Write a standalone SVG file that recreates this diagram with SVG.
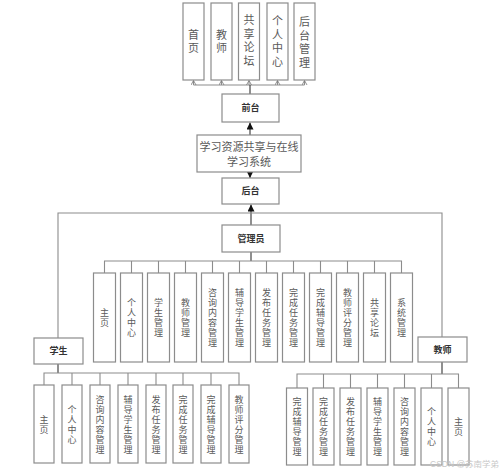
<svg xmlns="http://www.w3.org/2000/svg" width="499" height="472" viewBox="0 0 499 472">
<defs>
<marker id="af" markerWidth="7" markerHeight="7" refX="7" refY="3.5" orient="auto" markerUnits="userSpaceOnUse"><path d="M0,0 L7,3.5 L0,7 z" fill="#111"/></marker>
<marker id="ao" markerWidth="5" markerHeight="6" refX="4.5" refY="3" orient="auto" markerUnits="userSpaceOnUse"><path d="M0,0.5 L4.5,3 L0,5.5" fill="none" stroke="#777" stroke-width="0.8"/></marker>
<style>
.b{fill:#fff;stroke:#8c8c8c;stroke-width:1.2}
.l{fill:none;stroke:#8c8c8c;stroke-width:1.1}
.d{fill:none;stroke:#333;stroke-width:1.1}
.t{font-family:"Liberation Serif","Noto Sans CJK SC",serif;font-size:9px;fill:#5a5a5a;text-anchor:middle}
.tt{font-family:"Liberation Serif","Noto Sans CJK SC",serif;font-size:11px;fill:#5a5a5a;text-anchor:middle}
.s{font-family:"Liberation Serif","Noto Sans CJK SC",serif;font-size:11px;fill:#5a5a5a;text-anchor:middle}
.k{font-family:"Liberation Sans","Noto Sans CJK SC",sans-serif;font-size:9px;font-weight:bold;fill:#333;text-anchor:middle}
.w{font-family:"Liberation Sans","Noto Sans CJK SC",sans-serif;font-size:8.5px;fill:#c8c8c8}
</style>
</defs>

<g id="connectors">
<path class="l" d="M193.5,85 H304.5"/>
<path class="l" d="M193.5,85 V80.5" marker-end="url(#ao)"/>
<path class="l" d="M221.5,85 V80.5" marker-end="url(#ao)"/>
<path class="l" d="M249,85 V80.5" marker-end="url(#ao)"/>
<path class="l" d="M277.5,85 V80.5" marker-end="url(#ao)"/>
<path class="l" d="M304.5,85 V80.5" marker-end="url(#ao)"/>
<path class="d" d="M250,94 V85"/>
<path class="d" d="M250,135 V122.5" marker-end="url(#af)"/>
<path class="d" d="M250,172 V178" marker-end="url(#af)"/>
<path class="d" d="M251,225 V204.5" marker-end="url(#af)"/>
<path class="l" d="M58,338 V213 H442 V337"/>
<path class="d" d="M251,252 V261"/>
<path class="l" d="M104.5,273 V261 H401.5 V273"/>
<path class="l" d="M131.5,261 V273 M158.5,261 V273 M185.5,261 V273 M212.5,261 V273 M239.5,261 V273 M266.5,261 V273 M293.5,261 V273 M320.5,261 V273 M347.5,261 V273 M374.5,261 V273"/>
<path class="d" d="M58,364 V373"/>
<path class="l" d="M44,385 V373 H239 V385"/>
<path class="l" d="M72,373 V385 M100,373 V385 M128,373 V385 M156,373 V385 M183,373 V385 M211,373 V385"/>
<path class="d" d="M442,362 V374"/>
<path class="l" d="M297,388 V374 H458.5 V388"/>
<path class="l" d="M323.5,374 V388 M350.5,374 V388 M377.5,374 V388 M404.5,374 V388 M431.5,374 V388"/>
</g>

<g id="n-top1"><rect class="b" x="183" y="3" width="21" height="77"/><text class="tt"><tspan x="193.5" y="38.5">首</tspan><tspan x="193.5" y="52">页</tspan></text></g>
<g id="n-top2"><rect class="b" x="211" y="3" width="21" height="77"/><text class="tt"><tspan x="221.5" y="38.5">教</tspan><tspan x="221.5" y="52">师</tspan></text></g>
<g id="n-top3"><rect class="b" x="238.5" y="3" width="21" height="77"/><text class="tt"><tspan x="249" y="24">共</tspan><tspan x="249" y="37.5">享</tspan><tspan x="249" y="51">论</tspan><tspan x="249" y="64.5">坛</tspan></text></g>
<g id="n-top4"><rect class="b" x="267" y="3" width="21" height="77"/><text class="tt"><tspan x="277.5" y="25">个</tspan><tspan x="277.5" y="38.5">人</tspan><tspan x="277.5" y="52">中</tspan><tspan x="277.5" y="65.5">心</tspan></text></g>
<g id="n-top5"><rect class="b" x="294" y="3" width="21" height="77"/><text class="tt"><tspan x="304.5" y="26">后</tspan><tspan x="304.5" y="39.5">台</tspan><tspan x="304.5" y="53">管</tspan><tspan x="304.5" y="66.5">理</tspan></text></g>

<g id="n-front"><rect class="b" x="222" y="94" width="57" height="28"/><text class="k" x="250.5" y="111.3">前台</text></g>
<g id="n-system"><rect class="b" x="197" y="135" width="104" height="37"/><text class="s" x="249" y="151.2">学习资源共享与在线</text><text class="s" x="249" y="166.2">学习系统</text></g>
<g id="n-back"><rect class="b" x="222" y="178" width="57" height="26"/><text class="k" x="250.5" y="194.3">后台</text></g>
<g id="n-admin"><rect class="b" x="222" y="225" width="58" height="27"/><text class="k" x="251" y="241.8">管理员</text></g>

<g id="n-m1"><rect class="b" x="93.5" y="273" width="22" height="89"/><text class="t"><tspan x="104.5" y="316.1">主</tspan><tspan x="104.5" y="326.1">页</tspan></text></g>
<g id="n-m2"><rect class="b" x="120.5" y="273" width="22" height="89"/><text class="t"><tspan x="131.5" y="306.1">个</tspan><tspan x="131.5" y="316.1">人</tspan><tspan x="131.5" y="326.1">中</tspan><tspan x="131.5" y="336.1">心</tspan></text></g>
<g id="n-m3"><rect class="b" x="147.5" y="273" width="22" height="89"/><text class="t"><tspan x="158.5" y="306.1">学</tspan><tspan x="158.5" y="316.1">生</tspan><tspan x="158.5" y="326.1">管</tspan><tspan x="158.5" y="336.1">理</tspan></text></g>
<g id="n-m4"><rect class="b" x="174.5" y="273" width="22" height="89"/><text class="t"><tspan x="185.5" y="306.1">教</tspan><tspan x="185.5" y="316.1">师</tspan><tspan x="185.5" y="326.1">管</tspan><tspan x="185.5" y="336.1">理</tspan></text></g>
<g id="n-m5"><rect class="b" x="201.5" y="273" width="22" height="89"/><text class="t"><tspan x="212.5" y="296.1">咨</tspan><tspan x="212.5" y="306.1">询</tspan><tspan x="212.5" y="316.1">内</tspan><tspan x="212.5" y="326.1">容</tspan><tspan x="212.5" y="336.1">管</tspan><tspan x="212.5" y="346.1">理</tspan></text></g>
<g id="n-m6"><rect class="b" x="228.5" y="273" width="22" height="89"/><text class="t"><tspan x="239.5" y="296.1">辅</tspan><tspan x="239.5" y="306.1">导</tspan><tspan x="239.5" y="316.1">学</tspan><tspan x="239.5" y="326.1">生</tspan><tspan x="239.5" y="336.1">管</tspan><tspan x="239.5" y="346.1">理</tspan></text></g>
<g id="n-m7"><rect class="b" x="255.5" y="273" width="22" height="89"/><text class="t"><tspan x="266.5" y="296.1">发</tspan><tspan x="266.5" y="306.1">布</tspan><tspan x="266.5" y="316.1">任</tspan><tspan x="266.5" y="326.1">务</tspan><tspan x="266.5" y="336.1">管</tspan><tspan x="266.5" y="346.1">理</tspan></text></g>
<g id="n-m8"><rect class="b" x="282.5" y="273" width="22" height="89"/><text class="t"><tspan x="293.5" y="296.1">完</tspan><tspan x="293.5" y="306.1">成</tspan><tspan x="293.5" y="316.1">任</tspan><tspan x="293.5" y="326.1">务</tspan><tspan x="293.5" y="336.1">管</tspan><tspan x="293.5" y="346.1">理</tspan></text></g>
<g id="n-m9"><rect class="b" x="309.5" y="273" width="22" height="89"/><text class="t"><tspan x="320.5" y="296.1">完</tspan><tspan x="320.5" y="306.1">成</tspan><tspan x="320.5" y="316.1">辅</tspan><tspan x="320.5" y="326.1">导</tspan><tspan x="320.5" y="336.1">管</tspan><tspan x="320.5" y="346.1">理</tspan></text></g>
<g id="n-m10"><rect class="b" x="336.5" y="273" width="22" height="89"/><text class="t"><tspan x="347.5" y="296.1">教</tspan><tspan x="347.5" y="306.1">师</tspan><tspan x="347.5" y="316.1">评</tspan><tspan x="347.5" y="326.1">分</tspan><tspan x="347.5" y="336.1">管</tspan><tspan x="347.5" y="346.1">理</tspan></text></g>
<g id="n-m11"><rect class="b" x="363.5" y="273" width="22" height="89"/><text class="t"><tspan x="374.5" y="306.1">共</tspan><tspan x="374.5" y="316.1">享</tspan><tspan x="374.5" y="326.1">论</tspan><tspan x="374.5" y="336.1">坛</tspan></text></g>
<g id="n-m12"><rect class="b" x="390.5" y="273" width="22" height="89"/><text class="t"><tspan x="401.5" y="306.1">系</tspan><tspan x="401.5" y="316.1">统</tspan><tspan x="401.5" y="326.1">管</tspan><tspan x="401.5" y="336.1">理</tspan></text></g>

<g id="n-student"><rect class="b" x="34" y="338" width="49" height="26"/><text class="k" x="58.5" y="354.3">学生</text></g>
<g id="n-teacher"><rect class="b" x="418" y="337" width="49" height="25"/><text class="k" x="442.5" y="352.8">教师</text></g>

<g id="n-s1"><rect class="b" x="34" y="385" width="20" height="78"/><text class="t"><tspan x="44" y="422.6">主</tspan><tspan x="44" y="432.6">页</tspan></text></g>
<g id="n-s2"><rect class="b" x="62" y="385" width="20" height="78"/><text class="t"><tspan x="72" y="412.6">个</tspan><tspan x="72" y="422.6">人</tspan><tspan x="72" y="432.6">中</tspan><tspan x="72" y="442.6">心</tspan></text></g>
<g id="n-s3"><rect class="b" x="90" y="385" width="20" height="78"/><text class="t"><tspan x="100" y="402.6">咨</tspan><tspan x="100" y="412.6">询</tspan><tspan x="100" y="422.6">内</tspan><tspan x="100" y="432.6">容</tspan><tspan x="100" y="442.6">管</tspan><tspan x="100" y="452.6">理</tspan></text></g>
<g id="n-s4"><rect class="b" x="118" y="385" width="20" height="78"/><text class="t"><tspan x="128" y="402.6">辅</tspan><tspan x="128" y="412.6">导</tspan><tspan x="128" y="422.6">学</tspan><tspan x="128" y="432.6">生</tspan><tspan x="128" y="442.6">管</tspan><tspan x="128" y="452.6">理</tspan></text></g>
<g id="n-s5"><rect class="b" x="146" y="385" width="20" height="78"/><text class="t"><tspan x="156" y="402.6">发</tspan><tspan x="156" y="412.6">布</tspan><tspan x="156" y="422.6">任</tspan><tspan x="156" y="432.6">务</tspan><tspan x="156" y="442.6">管</tspan><tspan x="156" y="452.6">理</tspan></text></g>
<g id="n-s6"><rect class="b" x="173" y="385" width="20" height="78"/><text class="t"><tspan x="183" y="402.6">完</tspan><tspan x="183" y="412.6">成</tspan><tspan x="183" y="422.6">任</tspan><tspan x="183" y="432.6">务</tspan><tspan x="183" y="442.6">管</tspan><tspan x="183" y="452.6">理</tspan></text></g>
<g id="n-s7"><rect class="b" x="201" y="385" width="20" height="78"/><text class="t"><tspan x="211" y="402.6">完</tspan><tspan x="211" y="412.6">成</tspan><tspan x="211" y="422.6">辅</tspan><tspan x="211" y="432.6">导</tspan><tspan x="211" y="442.6">管</tspan><tspan x="211" y="452.6">理</tspan></text></g>
<g id="n-s8"><rect class="b" x="229" y="385" width="20" height="78"/><text class="t"><tspan x="239" y="402.6">教</tspan><tspan x="239" y="412.6">师</tspan><tspan x="239" y="422.6">评</tspan><tspan x="239" y="432.6">分</tspan><tspan x="239" y="442.6">管</tspan><tspan x="239" y="452.6">理</tspan></text></g>

<g id="n-t1"><rect class="b" x="286.5" y="388" width="21" height="77"/><text class="t"><tspan x="297" y="405.1">完</tspan><tspan x="297" y="415.1">成</tspan><tspan x="297" y="425.1">辅</tspan><tspan x="297" y="435.1">导</tspan><tspan x="297" y="445.1">管</tspan><tspan x="297" y="455.1">理</tspan></text></g>
<g id="n-t2"><rect class="b" x="313" y="388" width="21" height="77"/><text class="t"><tspan x="323.5" y="405.1">完</tspan><tspan x="323.5" y="415.1">成</tspan><tspan x="323.5" y="425.1">任</tspan><tspan x="323.5" y="435.1">务</tspan><tspan x="323.5" y="445.1">管</tspan><tspan x="323.5" y="455.1">理</tspan></text></g>
<g id="n-t3"><rect class="b" x="340" y="388" width="21" height="77"/><text class="t"><tspan x="350.5" y="405.1">发</tspan><tspan x="350.5" y="415.1">布</tspan><tspan x="350.5" y="425.1">任</tspan><tspan x="350.5" y="435.1">务</tspan><tspan x="350.5" y="445.1">管</tspan><tspan x="350.5" y="455.1">理</tspan></text></g>
<g id="n-t4"><rect class="b" x="367" y="388" width="21" height="77"/><text class="t"><tspan x="377.5" y="405.1">辅</tspan><tspan x="377.5" y="415.1">导</tspan><tspan x="377.5" y="425.1">学</tspan><tspan x="377.5" y="435.1">生</tspan><tspan x="377.5" y="445.1">管</tspan><tspan x="377.5" y="455.1">理</tspan></text></g>
<g id="n-t5"><rect class="b" x="394" y="388" width="21" height="77"/><text class="t"><tspan x="404.5" y="405.1">咨</tspan><tspan x="404.5" y="415.1">询</tspan><tspan x="404.5" y="425.1">内</tspan><tspan x="404.5" y="435.1">容</tspan><tspan x="404.5" y="445.1">管</tspan><tspan x="404.5" y="455.1">理</tspan></text></g>
<g id="n-t6"><rect class="b" x="421" y="388" width="21" height="77"/><text class="t"><tspan x="431.5" y="415.1">个</tspan><tspan x="431.5" y="425.1">人</tspan><tspan x="431.5" y="435.1">中</tspan><tspan x="431.5" y="445.1">心</tspan></text></g>
<g id="n-t7"><rect class="b" x="448" y="388" width="21" height="77"/><text class="t"><tspan x="458.5" y="425.1">主</tspan><tspan x="458.5" y="435.1">页</tspan></text></g>

<text class="w" x="430" y="467">CSDN @苏南学弟</text>
</svg>
